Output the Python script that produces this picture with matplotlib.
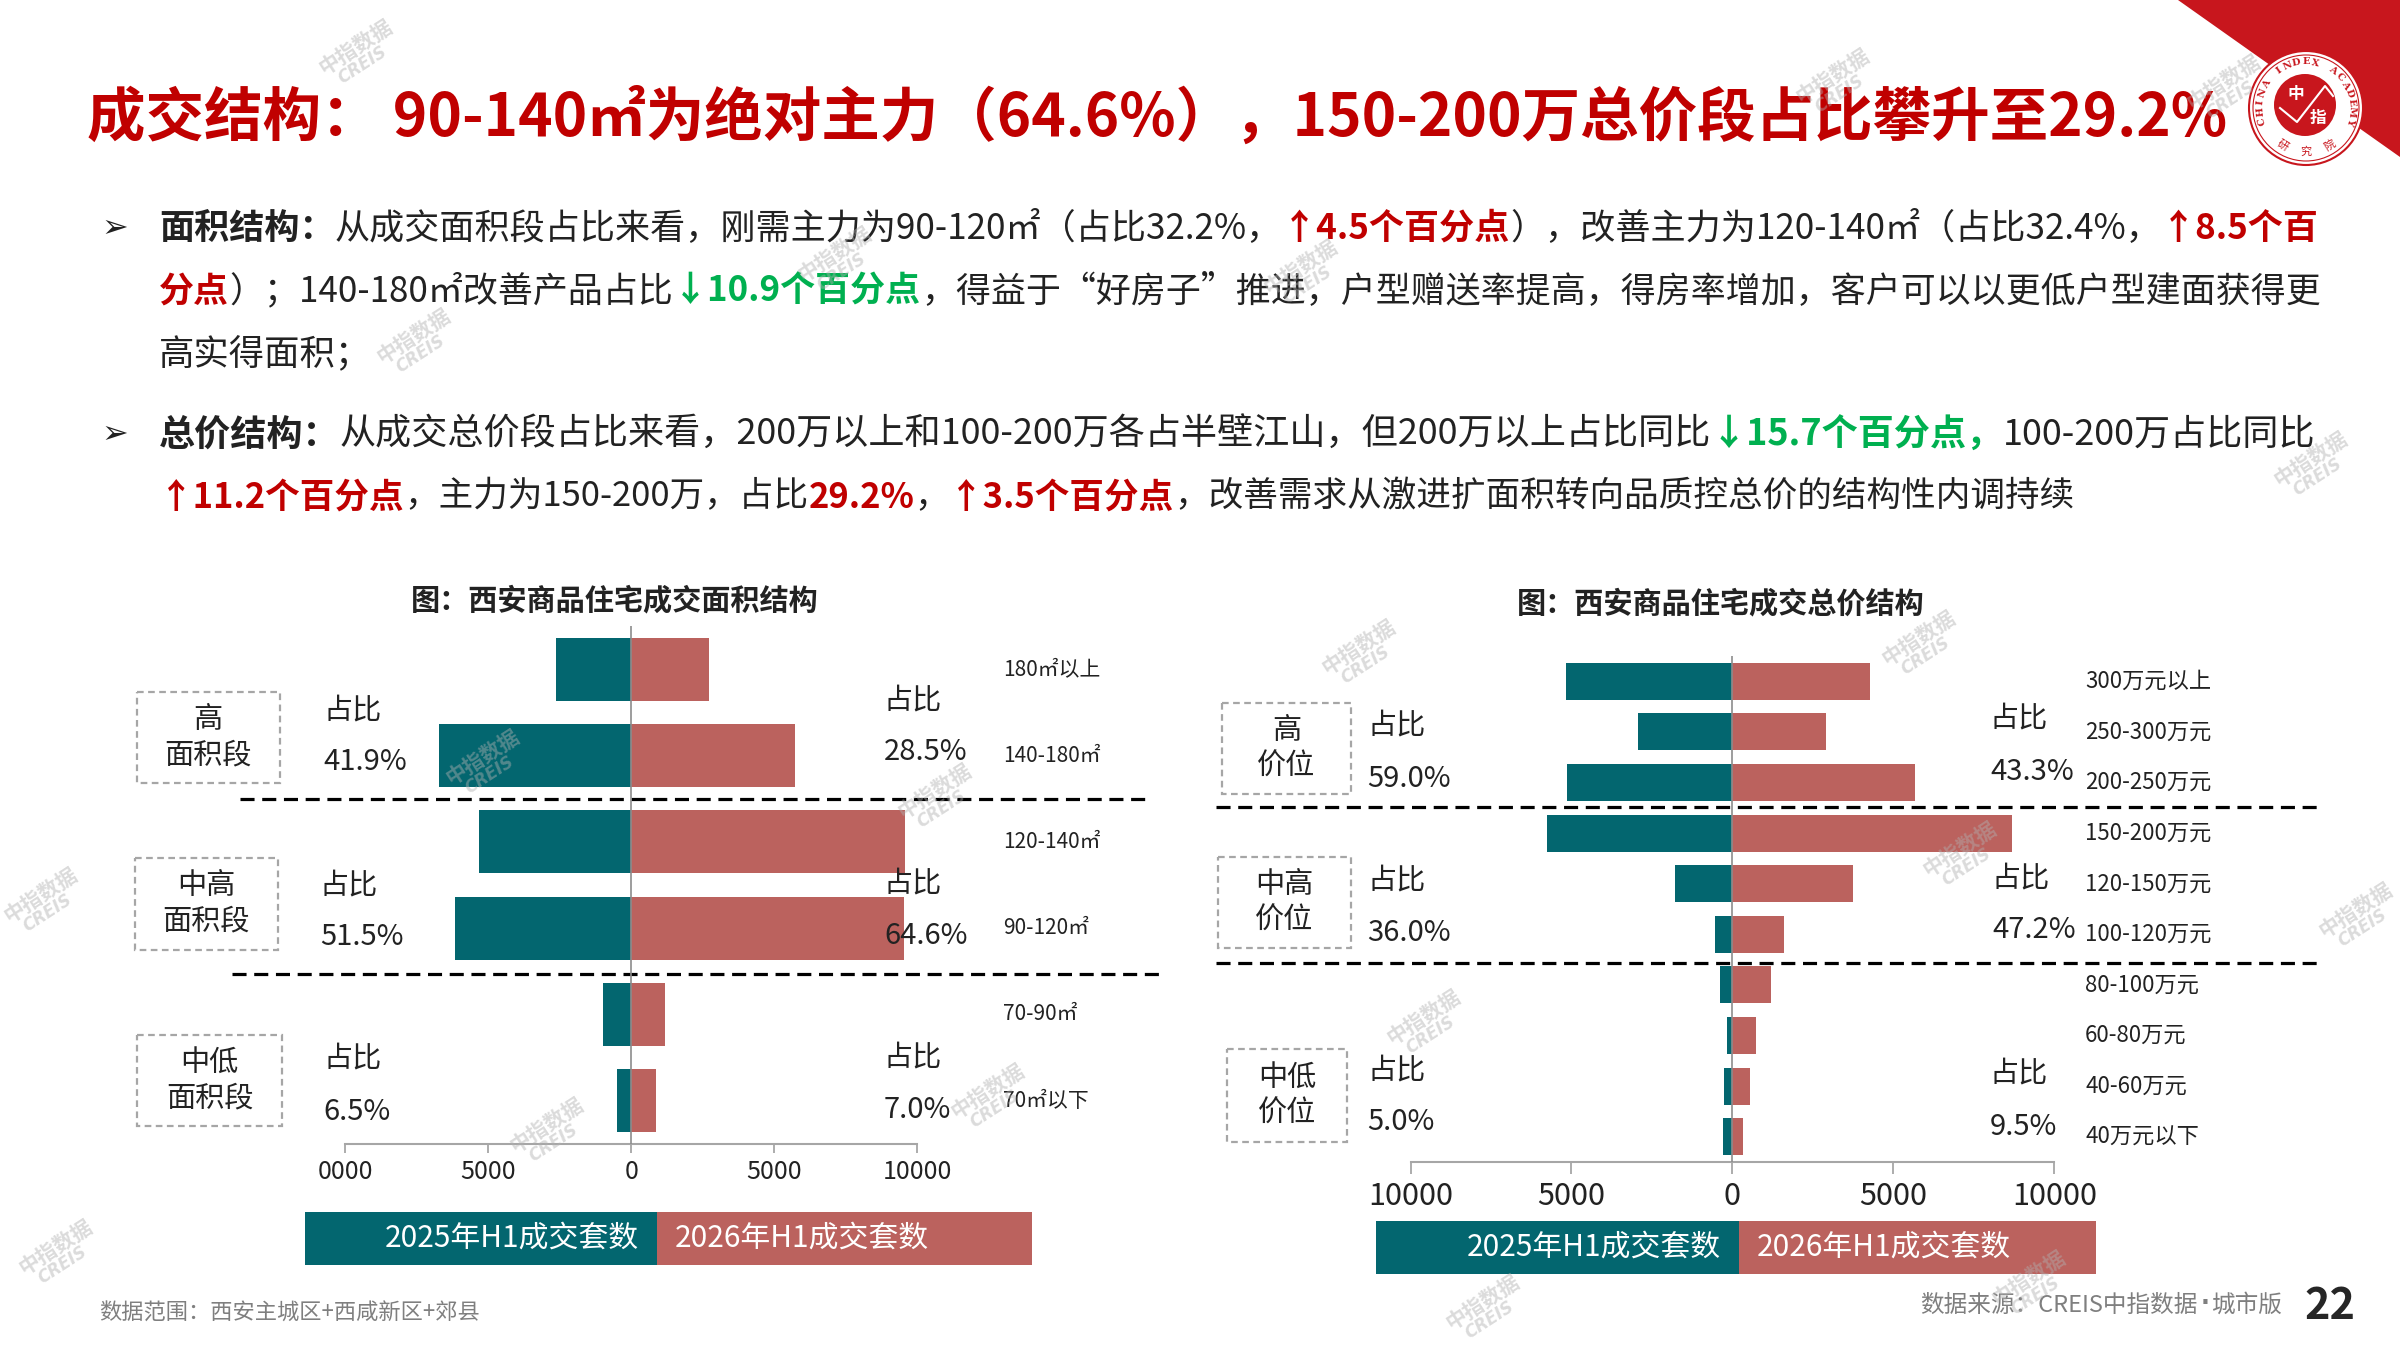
import numpy as np
import matplotlib
matplotlib.use('Agg')
import matplotlib.pyplot as plt
from matplotlib.patches import Rectangle, Polygon, Circle
from matplotlib.transforms import blended_transform_factory

# ---------------- data ----------------
area_cats = ['180㎡以上', '140-180㎡', '120-140㎡', '90-120㎡', '70-90㎡', '70㎡以下']
area_2025 = [2620, 6740, 5340, 6180, 980, 490]
area_2026 = [2700, 5710, 9560, 9530, 1180, 860]
area_groups = ['高\n面积段', '中高\n面积段', '中低\n面积段']
area_share_2025 = ['41.9%', '51.5%', '6.5%']
area_share_2026 = ['28.5%', '64.6%', '7.0%']
area_ticks = [-10000, -5000, 0, 5000, 10000]
area_ticklabels = ['0000', '5000', '0', '5000', '10000']

price_cats = ['300万元以上', '250-300万元', '200-250万元', '150-200万元', '120-150万元',
              '100-120万元', '80-100万元', '60-80万元', '40-60万元', '40万元以下']
price_2025 = [5170, 2940, 5150, 5760, 1780, 550, 390, 180, 250, 300]
price_2026 = [4260, 2920, 5670, 8680, 3740, 1600, 1210, 720, 560, 330]
price_groups = ['高\n价位', '中高\n价位', '中低\n价位']
price_share_2025 = ['59.0%', '36.0%', '5.0%']
price_share_2026 = ['43.3%', '47.2%', '9.5%']
price_ticks = [-10000, -5000, 0, 5000, 10000]
price_ticklabels = ['10000', '5000', '0', '5000', '10000']

series_names = ['2025年H1成交套数', '2026年H1成交套数']
share_word = '占比'

title = '成交结构： 90-140㎡为绝对主力（64.6%），150-200万总价段占比攀升至29.2%'
chart_titles = ['图：西安商品住宅成交面积结构', '图：西安商品住宅成交总价结构']
note_left = '数据范围：西安主城区+西咸新区+郊县'
note_right_parts = ['数据来源：CREIS中指数据', '·', '城市版']
page_no = '22'

# ---------------- style ----------------
TEAL = '#03666F'
ROSE = '#BB625E'
RED = '#C00000'
GREEN = '#00B050'
DARK = '#222222'
GREY = '#A6A6A6'

FAM = ['Noto Sans CJK SC', 'DejaVu Sans']
plt.rcParams['font.family'] = FAM

fig = plt.figure(figsize=(24, 13.5), dpi=100)
fig.patch.set_facecolor('white')
bg = fig.add_axes([0, 0, 1, 1])
bg.set_xlim(0, 2400)
bg.set_ylim(1350, 0)
bg.axis('off')
renderer = fig.canvas.get_renderer()


def tw(s, size, weight='normal'):
    t = bg.text(0, 0, '中' + s + '中', fontsize=size, fontweight=weight)
    w1 = t.get_window_extent(renderer).width
    t.set_text('中中')
    w2 = t.get_window_extent(renderer).width
    t.remove()
    return w1 - w2


def rich(x, y, segs, size):
    for s, c, w in segs:
        bg.text(x, y, s, fontsize=size, color=c, fontweight=w, va='center', ha='left')
        x += tw(s, size, w)
    return x


def fit(segs, width, base=20.0):
    total = sum(tw(s, base, w) for s, c, w in segs)
    return base * width / total


# ---------------- title ----------------
t = bg.text(87, 119, title, fontsize=40, color=RED, fontweight='bold', va='center', ha='left')
w = t.get_window_extent(renderer).width
t.set_fontsize(40 * 2140 / w)

# ---------------- logo ----------------
bg.add_patch(Polygon([(2178, 0), (2400, 0), (2400, 157)], closed=True, color='#C8161D', lw=0))
bg.add_patch(Circle((2306, 108), 57, facecolor='white', edgecolor='#C8161D', lw=1.5, zorder=3))
bg.add_patch(Circle((2306, 108), 53, facecolor='none', edgecolor='#C8161D', lw=0.8, zorder=3))
bg.add_patch(Circle((2305, 105), 31, facecolor='#C8161D', edgecolor='none', zorder=4))
bg.plot([2280, 2297, 2325, 2333], [108, 122, 86, 96], color='white', lw=1.5, zorder=5)
bg.text(2296, 94, '中', color='white', fontsize=12, fontweight='bold', ha='center', va='center', zorder=6)
bg.text(2318, 118, '指', color='white', fontsize=12, fontweight='bold', ha='center', va='center', zorder=6)
ring = 'CHINA INDEX ACADEMY'
angs = np.linspace(197, -17, len(ring))
for ch, a in zip(ring, angs):
    r = 46
    x = 2306 + r * np.cos(np.radians(a))
    y = 108 - r * np.sin(np.radians(a))
    bg.text(x, y, ch, fontsize=7, color='#C8161D', family='DejaVu Serif', fontweight='bold',
            rotation=a - 90, ha='center', va='center', zorder=6)
for ch, a in zip('研究院', [238, 270, 302]):
    r = 44
    x = 2306 + r * np.cos(np.radians(a))
    y = 108 - r * np.sin(np.radians(a))
    bg.text(x, y, ch, fontsize=8, color='#C8161D', rotation=a + 90, ha='center', va='center', zorder=6)

# ---------------- body text ----------------
line1 = [('面积结构：', DARK, 'bold'),
         ('从成交面积段占比来看，刚需主力为90-120㎡（占比32.2%，', DARK, 'normal'),
         ('↑4.5个百分点', RED, 'bold'),
         ('），改善主力为120-140㎡（占比32.4%，', DARK, 'normal'),
         ('↑8.5个百', RED, 'bold')]
line2 = [('分点', RED, 'bold'),
         ('）；140-180㎡改善产品占比', DARK, 'normal'),
         ('↓10.9个百分点', GREEN, 'bold'),
         ('，得益于“好房子”推进，户型赠送率提高，得房率增加，客户可以以更低户型建面获得更', DARK, 'normal')]
line3 = [('高实得面积；', DARK, 'normal')]
line4 = [('总价结构：', DARK, 'bold'),
         ('从成交总价段占比来看，200万以上和100-200万各占半壁江山，但200万以上占比同比', DARK, 'normal'),
         ('↓15.7个百分点，', GREEN, 'bold'),
         ('100-200万占比同比', DARK, 'normal')]
line5 = [('↑11.2个百分点', RED, 'bold'),
         ('，主力为150-200万，占比', DARK, 'normal'),
         ('29.2%', RED, 'bold'),
         ('，', DARK, 'normal'),
         ('↑3.5个百分点', RED, 'bold'),
         ('，改善需求从激进扩面积转向品质控总价的结构性内调持续', DARK, 'normal')]

X0 = 159
s1 = fit(line1, 2316 - X0)
s2 = fit(line2, 2316 - X0)
s4 = fit(line4, 2316 - X0)
s5 = fit(line5, 2072 - X0)
sm = (s1 + s2 + s4) / 3
rich(X0, 228, line1, s1)
rich(X0, 291, line2, s2)
rich(X0, 354, line3, sm)
rich(X0, 435, line4, s4)
rich(X0, 497, line5, s5)
for yb in (228, 435):
    bg.text(101, yb, '➢', family='DejaVu Sans', fontsize=sm * 0.9, color=DARK, va='center', ha='left')

# ---------------- charts ----------------
def pyramid(rect, cats, v25, v26, ticks, ticklabels, tick_size, tick_len, tick_pad,
            cat_x, cat_size):
    ax = fig.add_axes(rect)
    ax.set_facecolor('none')
    y = np.arange(len(cats))
    ax.barh(y, -np.array(v25), height=0.73, color=TEAL, zorder=2)
    ax.barh(y, np.array(v26), height=0.73, color=ROSE, zorder=2)
    ax.axvline(0, color='#8C8C8C', lw=1.2, zorder=3)
    ax.set_xlim(-10000, 10000)
    ax.set_ylim(len(cats) - 0.5, -0.5)
    ax.set_yticks([])
    ax.set_xticks(ticks)
    ax.set_xticklabels(ticklabels)
    for sp in ('top', 'left', 'right'):
        ax.spines[sp].set_visible(False)
    ax.spines['bottom'].set_color(GREY)
    ax.spines['bottom'].set_linewidth(1.5)
    ax.tick_params(axis='x', direction='out', length=tick_len, width=1.3, color=GREY,
                   labelsize=tick_size, labelcolor=DARK, pad=tick_pad)
    tr = blended_transform_factory(bg.transData, ax.transData)
    for i, c in enumerate(cats):
        ax.text(cat_x, i, c, transform=tr, fontsize=cat_size, color=DARK, ha='left', va='center')
    return ax


axL = pyramid([345.5 / 2400, 1 - 1144 / 1350, 571.8 / 2400, 518 / 1350],
              area_cats, area_2025, area_2026, area_ticks, area_ticklabels,
              18, 6.5, 4, 1003.5, 15)
axR = pyramid([1410.5 / 2400, 1 - 1162 / 1350, 643.9 / 2400, 506 / 1350],
              price_cats, price_2025, price_2026, price_ticks, price_ticklabels,
              22, 8.5, 5, 2085, 16)

# chart titles
bg.text(615, 600, chart_titles[0], fontsize=21, fontweight='bold', color=DARK, ha='center', va='center')
bg.text(1721, 603, chart_titles[1], fontsize=21, fontweight='bold', color=DARK, ha='center', va='center')

# dashed separators
dash_kw = dict(color='black', lw=2.3, dashes=(4.4, 2.4), zorder=5)
bg.plot([240, 1145], [799, 799], **dash_kw)
bg.plot([232, 1163], [974, 974], **dash_kw)
bg.plot([1216, 2318], [807, 807], **dash_kw)
bg.plot([1216, 2320], [963, 963], **dash_kw)

# group boxes
def group_box(x0, y0, x1, y1, label):
    bg.add_patch(Rectangle((x0, y0), x1 - x0, y1 - y0, facecolor='none', edgecolor=GREY,
                           lw=1.6, linestyle=(0, (3, 2))))
    bg.text((x0 + x1) / 2, (y0 + y1) / 2, label, fontsize=21, color=DARK, ha='center',
            va='center', linespacing=1.25)

for (x0, y0, x1, y1), lab in zip([(136.5, 692, 280, 783), (135, 858, 277.5, 950), (137, 1035, 282, 1126)],
                                 area_groups):
    group_box(x0, y0, x1, y1, lab)
for (x0, y0, x1, y1), lab in zip([(1222, 703, 1351, 794), (1218, 857, 1351, 948), (1227, 1049, 1347, 1142)],
                                 price_groups):
    group_box(x0, y0, x1, y1, lab)

# share labels (drawn above the bars)
def share(x, y0, y1, pct):
    fig.text(x, y0, share_word, transform=bg.transData, fontsize=21, color=DARK,
             ha='left', va='center', zorder=4)
    fig.text(x, y1, pct, transform=bg.transData, fontsize=21, color=DARK,
             ha='left', va='center', zorder=4)

for (x, a, b), p in zip([(323, 710, 762), (320, 885, 937), (323, 1058, 1112)], area_share_2025):
    share(x, a, b, p)
for (x, a, b), p in zip([(884, 700, 752), (884, 883, 936), (884, 1057, 1110)], area_share_2026):
    share(x, a, b, p)
for (x, a, b), p in zip([(1367, 725, 779), (1367, 880, 933), (1367, 1070, 1122)], price_share_2025):
    share(x, a, b, p)
for (x, a, b), p in zip([(1990, 718, 772), (1992, 878, 930), (1990, 1073, 1127)], price_share_2026):
    share(x, a, b, p)

# legend strips
def legend_strip(x0, xm, x1, y0, y1):
    bg.add_patch(Rectangle((x0, y0), xm - x0, y1 - y0, facecolor=TEAL, edgecolor='none'))
    bg.add_patch(Rectangle((xm, y0), x1 - xm, y1 - y0, facecolor=ROSE, edgecolor='none'))
    yc = (y0 + y1) / 2
    bg.text(xm - 18, yc, series_names[0], fontsize=21.5, color='white', ha='right', va='center')
    bg.text(xm + 18, yc, series_names[1], fontsize=21.5, color='white', ha='left', va='center')

legend_strip(305, 657, 1031.6, 1211.7, 1265)
legend_strip(1376, 1739, 2096, 1220.7, 1274)

# footers
bg.text(99.5, 1313, note_left, fontsize=16, color='#7F7F7F', ha='left', va='center')
xr = 2282
t3 = bg.text(xr, 1305, note_right_parts[2], fontsize=17, color='#7F7F7F', ha='right', va='center')
xr -= tw(note_right_parts[2], 17) + 2
t2 = bg.text(xr, 1303, note_right_parts[1], fontsize=17, color='#7F7F7F', ha='right', va='center',
             family='DejaVu Sans', fontweight='bold')
xr -= t2.get_window_extent(renderer).width + 3
bg.text(xr, 1305, note_right_parts[0], fontsize=17, color='#7F7F7F', ha='right', va='center')
bg.text(2304, 1306, page_no, fontsize=31, fontweight='bold', color='#262626', ha='left', va='center')

# watermarks
wm_pos = [(355, 55), (1832, 84), (834, 262), (1300, 275), (413, 344), (2310, 467), (482, 765),
          (934, 799), (1358, 655), (1918, 646), (1959, 857), (1423, 1025), (546, 1133),
          (987, 1099), (2028, 1286), (55, 1255), (1482, 1310), (40, 903), (2355, 918), (2223, 90)]
for (x, y) in wm_pos:
    fig.text(x, y - 8, '中指数据', transform=bg.transData, fontsize=15, color='#B0B0B0',
             alpha=0.45, rotation=33, ha='center', va='center', fontweight='bold')
    fig.text(x + 8, y + 10, 'CREIS', transform=bg.transData, fontsize=12, color='#B0B0B0',
             alpha=0.45, rotation=33, ha='center', va='center', style='italic', fontweight='bold',
             family='DejaVu Sans')

fig.savefig('out.png', dpi=100)
